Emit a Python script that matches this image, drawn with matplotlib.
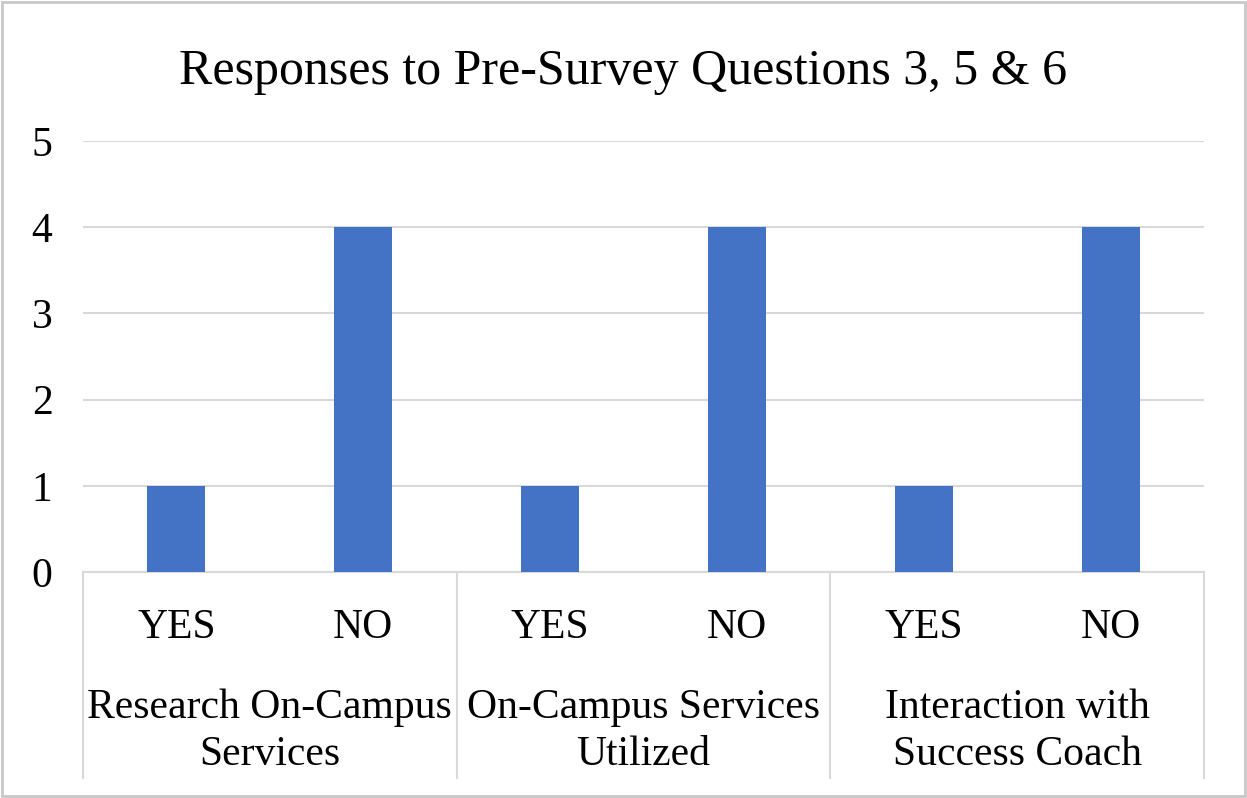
import matplotlib.pyplot as plt
from matplotlib.patches import Rectangle
from matplotlib.transforms import blended_transform_factory

plt.rcParams['font.family'] = ['Liberation Serif', 'DejaVu Serif']

groups = ['Research On-Campus\nServices', 'On-Campus Services\nUtilized', 'Interaction with\nSuccess Coach']
answers = ['YES', 'NO']
yes_counts = [1, 1, 1]
no_counts = [4, 4, 4]

bar_color = '#4472C4'
grid_color = '#D9D9D9'

fig = plt.figure(figsize=(12.47, 7.98), dpi=100)
ax = fig.add_axes([83/1247, 1-572/798, (1204-83)/1247, (572-141)/798])

# two bars per group, one slot each
xs, vals, labs = [], [], []
for i in range(len(groups)):
    xs += [2*i + 0.5, 2*i + 1.5]
    vals += [yes_counts[i], no_counts[i]]
    labs += answers
ax.bar(xs, vals, width=0.31, color=bar_color, zorder=3)

ax.set_xlim(0, 2*len(groups))
ax.set_ylim(0, 5)
ax.set_yticks(range(6))
ax.tick_params(axis='y', length=0, labelsize=30, pad=22)
ax.set_xticks([])
ax.yaxis.grid(True, color=grid_color, linewidth=1.5)
ax.set_axisbelow(True)
for s in ['top', 'right', 'left']:
    ax.spines[s].set_visible(False)
ax.spines['bottom'].set_color(grid_color)
ax.spines['bottom'].set_linewidth(1.5)

# multi-level category axis below the plot
tr = blended_transform_factory(ax.transData, fig.transFigure)
y_top = 1 - 572/798
y_bot = 1 - 778/798
for k in range(len(groups) + 1):
    ax.plot([2*k, 2*k], [y_top, y_bot], transform=tr, color=grid_color,
            linewidth=1.5, clip_on=False)
for x, lab in zip(xs, labs):
    ax.text(x, 1-628/798, lab, transform=tr, ha='center', va='center', fontsize=30)
for i, g in enumerate(groups):
    ax.text(2*i + 1, 1-731/798, g, transform=tr, ha='center', va='center',
            fontsize=30, linespacing=1.3)

fig.text(0.5, 1-72/798, 'Responses to Pre-Survey Questions 3, 5 & 6',
         ha='center', va='center', fontsize=36)

fig.patches.append(Rectangle((0.002, 0.003), 0.996, 0.994, transform=fig.transFigure,
                             fill=False, edgecolor='#C8C8C8', linewidth=2))

fig.savefig('out.png', dpi=100)
